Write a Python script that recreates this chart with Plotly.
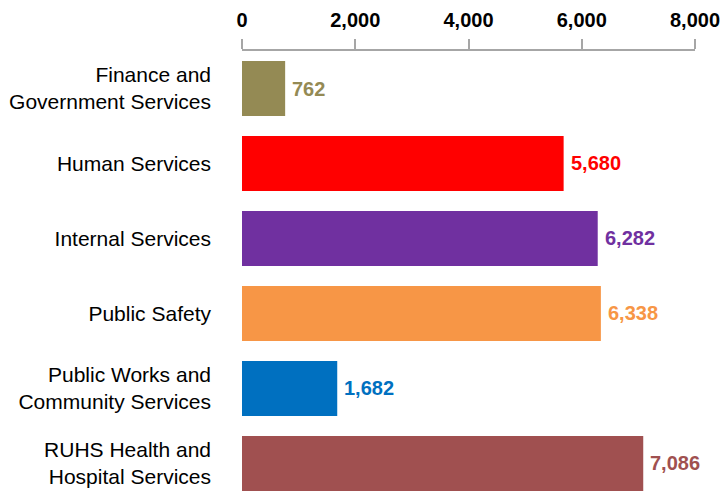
import plotly.graph_objects as go

categories = [
    "Finance and<br>Government Services",
    "Human Services",
    "Internal Services",
    "Public Safety",
    "Public Works and<br>Community Services",
    "RUHS Health and<br>Hospital Services",
]
values = [762, 5680, 6282, 6338, 1682, 7086]
colors = ["#948A54", "#FF0000", "#7030A0", "#F79646", "#0070C0", "#A05050"]
x_ticks = [0, 2000, 4000, 6000, 8000]
x_tick_labels = ["0", "2,000", "4,000", "6,000", "8,000"]

positions = list(range(len(categories)))

fig = go.Figure(
    go.Bar(
        x=values,
        y=positions,
        orientation="h",
        width=0.733,
        marker=dict(color=colors, line=dict(width=0)),
        hoverinfo="skip",
    )
)

for p, v, c in zip(positions, values, colors):
    fig.add_annotation(
        x=v, y=p, xref="x", yref="y",
        text=f"<b>{v:,}</b>",
        showarrow=False,
        xanchor="left",
        yanchor="middle",
        xshift=5,
        font=dict(color=c, size=20, family="Liberation Sans, Arial"),
    )

fig.update_layout(
    width=724,
    height=491,
    margin=dict(l=242, r=29, t=51, b=0),
    paper_bgcolor="white",
    plot_bgcolor="white",
    showlegend=False,
    font=dict(family="Liberation Sans, Arial", size=21, color="#000000"),
    xaxis=dict(
        side="top",
        range=[0, 8000],
        tickvals=x_ticks,
        ticktext=[f"<b>{t}</b>" for t in x_tick_labels],
        showgrid=False,
        zeroline=False,
        showline=True,
        linecolor="#A6A6A6",
        linewidth=2,
        ticks="outside",
        ticklen=10,
        tickwidth=2,
        tickcolor="#A6A6A6",
        ticklabelstandoff=4,
        tickfont=dict(size=20, color="#000000"),
        fixedrange=True,
    ),
    yaxis=dict(
        range=[5.367, -0.5],
        tickvals=positions,
        ticktext=categories,
        showgrid=False,
        zeroline=False,
        showline=False,
        ticks="",
        ticklabelstandoff=30,
        tickfont=dict(size=21, color="#000000"),
        fixedrange=True,
    ),
)

fig.write_html(
    "out.html",
    config={"displayModeBar": False},
    post_script="document.body.style.margin='0';document.body.style.overflow='hidden';",
)
